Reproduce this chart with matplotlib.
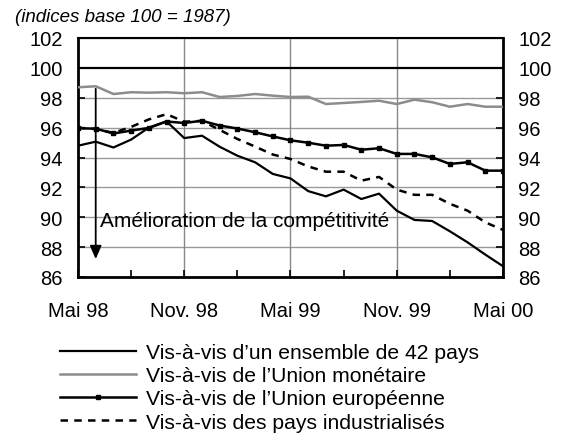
import matplotlib
matplotlib.use("Agg")
import matplotlib.pyplot as plt
import numpy as np

plt.rcParams['font.family'] = ['Liberation Sans', 'DejaVu Sans']

months = list(range(25))
tick_pos = [0, 6, 12, 18, 24]
tick_labels = ["Mai 98", "Nov. 98", "Mai 99", "Nov. 99", "Mai 00"]
yticks = [86, 88, 90, 92, 94, 96, 98, 100, 102]

pays42 = [94.79, 95.06, 94.67, 95.20, 96.00, 96.42, 95.30, 95.46, 94.72, 94.12,
          93.68, 92.90, 92.60, 91.75, 91.40, 91.85, 91.22, 91.58, 90.44, 89.82,
          89.75, 89.06, 88.32, 87.50, 86.72]
union_mon = [98.70, 98.77, 98.25, 98.37, 98.34, 98.37, 98.30, 98.37, 98.05, 98.12,
             98.25, 98.14, 98.05, 98.07, 97.58, 97.65, 97.72, 97.80, 97.58, 97.87,
             97.70, 97.40, 97.58, 97.40, 97.40]
union_eur = [95.96, 95.93, 95.61, 95.80, 95.98, 96.41, 96.31, 96.46, 96.14, 95.94,
             95.69, 95.41, 95.15, 94.99, 94.79, 94.84, 94.52, 94.62, 94.24, 94.24,
             94.01, 93.57, 93.68, 93.12, 93.12]
indus = [96.00, 95.90, 95.65, 96.05, 96.55, 96.90, 96.40, 96.45, 95.85, 95.24,
         94.73, 94.20, 93.90, 93.40, 93.05, 93.05, 92.45, 92.70, 91.85, 91.50,
         91.50, 90.90, 90.44, 89.66, 89.15]

labels = ["Vis-à-vis d\u2019un ensemble de 42 pays",
          "Vis-à-vis de l\u2019Union monétaire",
          "Vis-à-vis de l\u2019Union européenne",
          "Vis-à-vis des pays industrialisés"]

fig = plt.figure(figsize=(5.65, 4.35), dpi=100)
W, H = 565, 435
ax = fig.add_axes([78 / W, 1 - 278 / H, (503 - 78) / W, (278 - 39) / H])

ax.set_xlim(0, 24)
ax.set_ylim(86, 102)

# grid
for y in yticks:
    if y == 100:
        ax.axhline(y, color='black', lw=1.6, zorder=2)
    else:
        ax.axhline(y, color='#999999', lw=1.0, zorder=1)
for x in tick_pos[1:-1]:
    ax.axvline(x, color='#888888', lw=1.0, zorder=1)

l1, = ax.plot(months, pays42, color='black', lw=1.6, zorder=4)
l2, = ax.plot(months, union_mon, color='#8c8c8c', lw=1.8, zorder=4)
l3, = ax.plot(months, union_eur, color='black', lw=1.8, marker='s', markersize=2.5,
              zorder=5)
l4, = ax.plot(months, indus, color='black', lw=1.8, linestyle=(0, (3, 2.5)),
              zorder=4)

# arrow
ax.annotate("", xy=(1, 87.2), xytext=(1, 98.6),
            arrowprops=dict(arrowstyle='-|>,head_length=0.8,head_width=0.35',
                            color='black', lw=1.3, shrinkA=0, shrinkB=0),
            zorder=6)
ax.text(1.25, 89.75, "Amélioration de la compétitivité", fontsize=15,
        ha='left', va='center', zorder=6)

ax.set_xticks(tick_pos)
ax.set_xticklabels(tick_labels)
ax.set_xticks([3, 9, 15, 21], minor=True)
ax.set_yticks(yticks)
ax.tick_params(axis='both', which='both', direction='in', labelsize=14.5,
               length=5, width=1.2, color='black')
ax.tick_params(axis='x', pad=17)
ax.tick_params(axis='y', pad=11, right=True, labelright=True)
for s in ax.spines.values():
    s.set_linewidth(2)
    s.set_color('black')
ax.spines['top'].set_linewidth(1.5)

fig.text(15 / W, 1 - 18 / H, "(indices base 100 = 1987)", fontsize=13.5,
         style='italic', ha='left', va='center')

leg = fig.legend([l1, l2, l3, l4], labels, loc='upper left',
                 bbox_to_anchor=(60 / W, 1 - 344 / H), frameon=False,
                 fontsize=15.2, handlelength=3.6, handletextpad=0.45,
                 labelspacing=0.2, borderaxespad=0, borderpad=0, numpoints=1)

fig.savefig("out.png", dpi=100)
